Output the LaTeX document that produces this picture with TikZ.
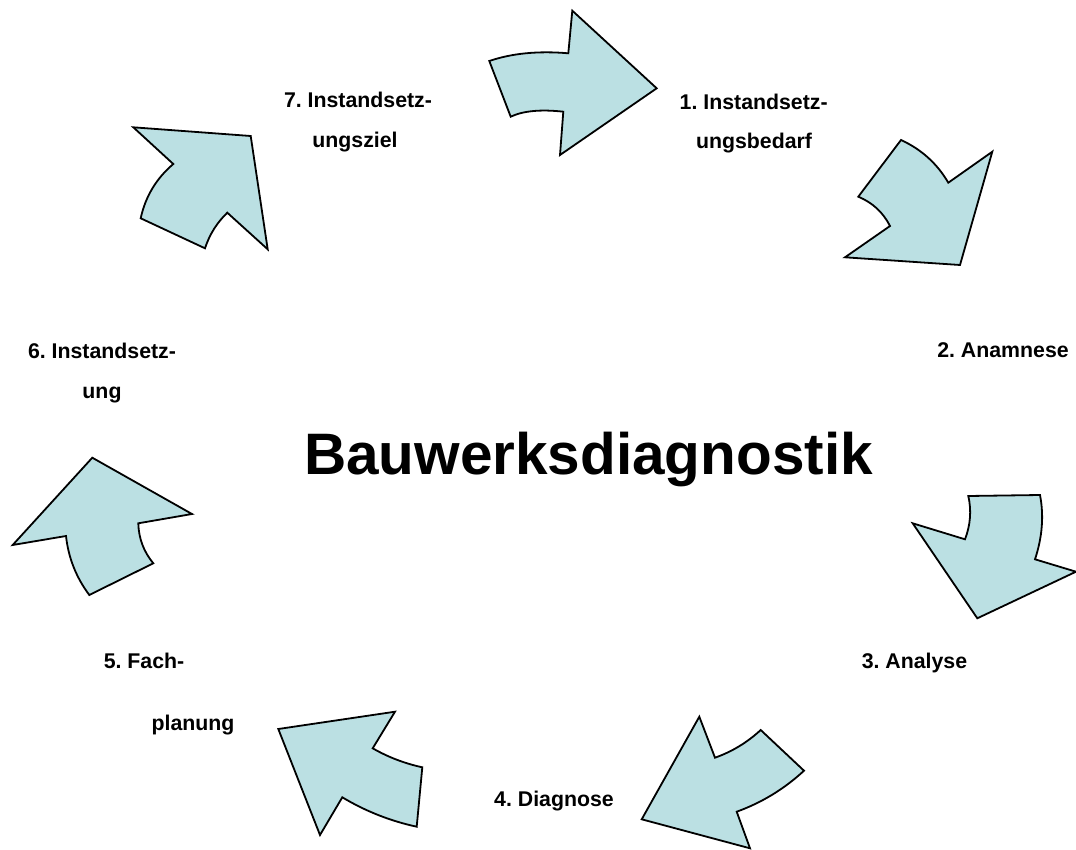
\documentclass[tikz,border=0pt]{standalone}
\usepackage{fontspec}
\setmainfont{Liberation Sans}
\frenchspacing
\definecolor{arrowfill}{RGB}{187,224,227}
\begin{document}
\begin{tikzpicture}[x=1pt,y=-1pt,
  cyclearrow/.style={draw=black,fill=arrowfill,line width=1.8pt,line join=miter},
  lbl/.style={anchor=base,inner sep=0pt,font=\fontsize{21.3}{25}\selectfont\bfseries},
  ttl/.style={anchor=base,inner sep=0pt,font=\fontsize{58.5}{70}\selectfont\bfseries}]
\useasboundingbox (0,0) rectangle (1076,850);
% Arrow 1 (top)
\draw[cyclearrow] (489.3,61) .. controls (511.8,53.3) and (538.2,50.7) .. (568.3,53.3) -- (572.3,10.7) -- (656.7,88.3)
  -- (560,155) -- (563.3,111.7) .. controls (540.8,109.2) and (523.2,110.8) .. (510.7,116.7) -- cycle;
% Arrow 2 (upper right)
\draw[cyclearrow] (901,140) .. controls (921.3,149.3) and (937.1,163.5) .. (948.3,182.7) -- (992.3,151.7) -- (960,265)
  -- (845,257.3) -- (890,226) .. controls (883.1,212.4) and (872.5,202.6) .. (858.3,196.7) -- cycle;
% Arrow 3 (right)
\draw[cyclearrow] (968.3,496) -- (1040,495) .. controls (1044,515.7) and (1042.3,537.1) .. (1035,559.3) -- (1076,571.7)
  -- (977.3,618.3) -- (912.7,523.3) -- (965,539.3) .. controls (970.5,524.9) and (971.6,510.5) .. cycle;
% Arrow 4 (bottom right)
\draw[cyclearrow] (760.7,730) -- (804,770.7) .. controls (784.3,788.9) and (761.9,802.6) .. (736.7,811.7) -- (750,848.3)
  -- (641.7,819.3) -- (699.3,716.7) -- (715,757.7) .. controls (732.1,751.6) and (747.3,742.4) .. cycle;
% Arrow 5 (bottom left)
\draw[cyclearrow] (395,711.7) -- (372.7,748.3) .. controls (388.2,757.2) and (404.8,763.5) .. (422.3,767.3) -- (416.7,826.7)
  .. controls (390.3,821) and (365.5,811.2) .. (342.3,797.3) -- (320,835) -- (278.3,729) -- cycle;
% Arrow 6 (left)
\draw[cyclearrow] (92.3,457.7) -- (192,514) -- (138.3,523.3) .. controls (138.7,538.4) and (143.7,551.7) .. (153.3,563.3)
  -- (89.3,595) .. controls (76.2,577.5) and (68.4,557.8) .. (66,536) -- (12.7,545) -- cycle;
% Arrow 7 (upper left)
\draw[cyclearrow] (133.3,127.3) -- (250.7,136) -- (267.7,249.3) -- (227.3,212.7)
  .. controls (216.9,222.7) and (209.5,234.5) .. (205,248.3) -- (140.7,218.3)
  .. controls (145.4,196.6) and (156.2,178.5) .. (173.3,164) -- cycle;
% Labels
\node[lbl] (l1a) at (753.7,109.3) {1. Instandsetz-};
\node[lbl] (l1b) at (754,148.3) {ungsbedarf};
\node[lbl] (l2) at (1003,357) {2. Anamnese};
\node[lbl] (l3) at (914.5,668) {3. Analyse};
\node[lbl] (l4) at (554,806) {4. Diagnose};
\node[lbl] (l5a) at (144,668) {5. Fach-};
\node[lbl] (l5b) at (193,730) {planung};
\node[lbl] (l6a) at (102,358) {6. Instandsetz-};
\node[lbl] (l6b) at (102,398) {ung};
\node[lbl] (l7a) at (358,108) {7. Instandsetz-};
\node[lbl] (l7b) at (355,148) {ungsziel};
\node[ttl] (title) at (588.5,474) {Bauwerksdiagnostik};
\end{tikzpicture}
\end{document}
